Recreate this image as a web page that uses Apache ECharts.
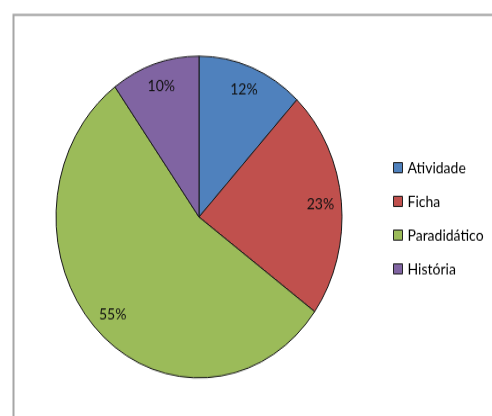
<!DOCTYPE html>
<html>
<head>
<meta charset="utf-8">
<script src="https://cdn.jsdelivr.net/npm/echarts@6/dist/echarts.min.js"></script>
<style>
  html, body { margin: 0; padding: 0; background: #fff; width: 492px; height: 416px; }
  #frame { width: 492px; height: 416px; overflow: hidden; position: relative; }
  #chart { position: absolute; left: 0; top: 0; width: 492px; height: 370px; transform: scaleY(1.125); transform-origin: 0 0; }
</style>
</head>
<body>
<div id="frame"><div id="chart"></div></div>
<script>
// Material types and their shares (%)
const categories = ['Atividade', 'Ficha', 'Paradidático', 'História'];
const shares = [12, 23, 55, 10];
const colors = ['#4F81BD', '#C0504D', '#9BBB59', '#8064A2'];

const pieData = categories.map((name, i) => ({
  name,
  value: shares[i],
  itemStyle: { color: colors[i] }
}));

const chart = echarts.init(document.getElementById('chart'), null, { renderer: 'canvas' });

chart.setOption({
  animation: false,
  backgroundColor: '#fff',
  graphic: [{
    type: 'rect',
    left: 11,
    top: 10.7,
    shape: { width: 520, height: 400 },
    style: { fill: 'none', stroke: '#A6A6A6', lineWidth: 2 },
    silent: true
  }],
  legend: {
    orient: 'vertical',
    left: 388,
    top: 137,
    icon: 'rect',
    itemWidth: 9,
    itemHeight: 9,
    itemGap: 16,
    selectedMode: false,
    itemStyle: { borderColor: '#222', borderWidth: 1 },
    textStyle: { fontFamily: 'Lato', fontSize: 14, color: '#000', lineHeight: 14 },
    data: categories
  },
  series: [
    {
      // filled slices
      type: 'pie',
      center: [199, 192.9],
      radius: [0, 143],
      startAngle: 90,
      clockwise: true,
      silent: true,
      label: { show: false },
      labelLine: { show: false },
      itemStyle: { borderColor: '#1a1a1a', borderWidth: 1 },
      emphasis: { disabled: true },
      data: pieData
    },
    {
      // percentage labels placed near the rim
      type: 'pie',
      center: [199, 192.9],
      radius: [95, 143],
      startAngle: 90,
      clockwise: true,
      silent: true,
      itemStyle: { color: 'rgba(0,0,0,0)', borderWidth: 0 },
      label: {
        show: true,
        position: 'inside',
        formatter: p => p.value + '%',
        fontFamily: 'Lato',
        fontSize: 14,
        color: '#111'
      },
      labelLine: { show: false },
      emphasis: { disabled: true },
      data: categories.map((name, i) => ({ name, value: shares[i] }))
    }
  ]
});
</script>
</body>
</html>
